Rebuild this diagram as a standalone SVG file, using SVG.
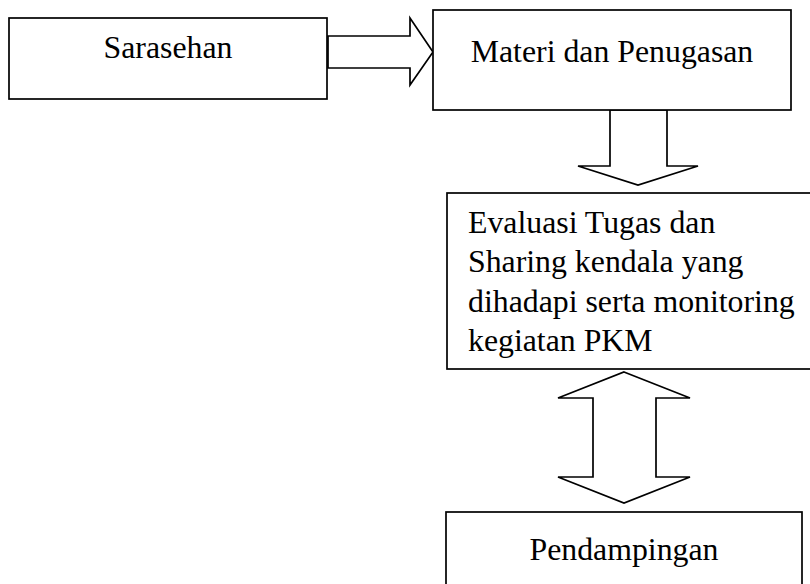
<svg xmlns="http://www.w3.org/2000/svg" width="810" height="584" viewBox="0 0 810 584">
<style>
.box{fill:#fff;stroke:#000;stroke-width:1.7}
.arr{fill:#fff;stroke:#000;stroke-width:1.7;stroke-linejoin:miter}
text{font-family:"Liberation Serif","Times New Roman",serif;font-size:31.8px;fill:#000}
.c{text-anchor:middle}
</style>
<rect width="810" height="584" fill="#fff"/>
<g id="connectors">
<polygon class="arr" points="328,36 410,36 410,18 433,52 410,85 410,68 328,68"/>
<polygon class="arr" points="610,110 667,110 667,166 698,166 638,185 578,166 610,166"/>
<polygon class="arr" points="624,372 690,398 656,398 656,477 690,477 624,503 558,477 593,477 593,398 558,398"/>
</g>
<g id="sarasehan">
<rect class="box" x="9" y="18" width="318" height="81"/>
<text class="c" x="168" y="58">Sarasehan</text>
</g>
<g id="materi">
<rect class="box" x="433" y="10" width="358" height="100"/>
<text class="c" x="612" y="62">Materi dan Penugasan</text>
</g>
<g id="evaluasi">
<rect class="box" x="447" y="193" width="370" height="176"/>
<text x="468" y="233">Evaluasi Tugas dan</text>
<text x="468" y="272">Sharing kendala yang</text>
<text x="468" y="311.5">dihadapi serta monitoring</text>
<text x="468" y="350.5">kegiatan PKM</text>
</g>
<g id="pendampingan">
<rect class="box" x="446" y="512" width="356" height="90"/>
<text class="c" x="624" y="560">Pendampingan</text>
</g>
</svg>
